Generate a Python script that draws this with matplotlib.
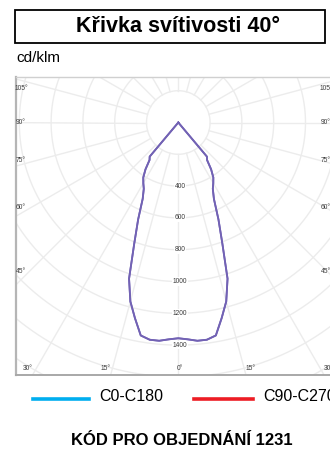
import numpy as np
import matplotlib
matplotlib.use('Agg')
import matplotlib.pyplot as plt
from matplotlib.patches import Rectangle
from matplotlib.lines import Line2D

plt.rcParams['font.family'] = ['Liberation Sans', 'DejaVu Sans']
NARROW = ['Liberation Sans Narrow', 'Liberation Sans', 'DejaVu Sans']

# data: luminous intensity (cd/klm) vs gamma angle (deg from nadir)
gamma = [0, 2.5, 5, 7.5, 10, 12.5, 15, 17.5, 20, 22.5, 25, 27.5, 30, 32.5, 35, 37.5, 40, 45]
c0_c180 = [1357, 1365, 1378, 1378, 1360, 1260, 1165, 1030, 810, 660, 530, 470, 440, 410, 360, 297, 280, 0]
c90_c270 = [1357, 1365, 1378, 1378, 1360, 1260, 1165, 1030, 810, 660, 530, 470, 440, 410, 360, 297, 280, 0]

circle_values = [200, 400, 600, 800, 1000, 1200, 1400, 1600, 1800, 2000]
radial_labels = [400, 600, 800, 1000, 1200, 1400]
side_angles = [105, 90, 75, 60, 45]
bottom_angles = [30, 15, 0]

legend_names = ['C0-C180', 'C90-C270']
legend_colors = ['#00aeef', '#ed1c24']
curve_color = '#7262b4'

# layout (pixels in a 330x450 image)
W, H = 330, 450
S = 0.159            # px per cd
OX, OY = 178.3, 122.5  # origin in pixels
L, R, T, B = 16, 332, 77, 375


def fx(px):
    return px / W


def fy(py):
    return 1 - py / H


fig = plt.figure(figsize=(W / 100, H / 100), dpi=100)
ax = fig.add_axes([fx(L), fy(B), (R - L) / W, (B - T) / H])
ax.set_xlim((L - OX) / S, (R - OX) / S)
ax.set_ylim((OY - B) / S, (OY - T) / S)
ax.set_xticks([])
ax.set_yticks([])
for side in ['left', 'right']:
    ax.spines[side].set_color('#b5b5b5')
    ax.spines[side].set_linewidth(1.6)
ax.spines['top'].set_color('#d0d0d0')
ax.spines['top'].set_linewidth(1.0)
ax.spines['bottom'].set_color('#a8a8a8')
ax.spines['bottom'].set_linewidth(1.4)

# polar grid
grid_kw = dict(color='#ececec', lw=1.0, zorder=1)
t = np.linspace(0, 2 * np.pi, 720)
for r in circle_values:
    ax.plot(r * np.sin(t), r * np.cos(t), **grid_kw)
for a in range(0, 360, 15):
    ar = np.radians(a)
    ax.plot([200 * np.sin(ar), 3000 * np.sin(ar)],
            [-200 * np.cos(ar), -3000 * np.cos(ar)], **grid_kw)


def profile(g, vals):
    g = np.asarray(g, float)
    v = np.asarray(vals, float)
    gg = np.radians(np.r_[-g[::-1], g[1:]])
    vv = np.r_[v[::-1], v[1:]]
    return vv * np.sin(gg), -vv * np.cos(gg)


for vals in [c0_c180, c90_c270]:
    x, y = profile(gamma, vals)
    ax.plot(x, y, color=curve_color, lw=1.3, zorder=3, solid_joinstyle='round')

# labels
lab_kw = dict(fontsize=4.8, color='#3a3a3a', ha='center', va='center', zorder=4)
for v in radial_labels:
    ax.text(1.7 / S, -v, str(v), bbox=dict(fc='white', ec='none', pad=0.4), **lab_kw)

ymax = (OY - 88) / S
for a in side_angles:
    dx = (OX - 21) / S
    if a == 90:
        yy = 0
    else:
        yy = min(-dx / np.tan(np.radians(a + 1.5)), ymax)
    ax.text((21 - OX) / S, yy, f'{a}°', **lab_kw)
    ax.text((326 - OX) / S, yy, f'{a}°', **lab_kw)

yb = (OY - 368) / S
for a in bottom_angles:
    xx = -yb * np.tan(np.radians(a + 1.5)) if a else 1.5 / S
    ax.text(-xx if a else xx, yb, f'{a}°', **lab_kw)
    if a:
        ax.text(xx, yb, f'{a}°', **lab_kw)

# title box
fig.patches.append(Rectangle((fx(15), fy(43)), 310 / W, 33 / H, transform=fig.transFigure,
                             fill=False, ec='black', lw=1.3))
fig.text(fx(178), fy(27), 'Křivka svítivosti 40°', ha='center', va='center',
         fontsize=15.5, fontweight='bold', family=NARROW)
fig.text(fx(16), fy(62), 'cd/klm', ha='left', va='baseline', fontsize=11, family=NARROW)

# legend
legend_x = [(33, 89, 99), (194, 253, 263)]
for (x0, x1, xt), name, col in zip(legend_x, legend_names, legend_colors):
    fig.add_artist(Line2D([fx(x0), fx(x1)], [fy(399), fy(399)], color=col, lw=2.6,
                          transform=fig.transFigure))
    fig.text(fx(xt), fy(401), name, ha='left', va='baseline', fontsize=11.5)

fig.text(fx(182), fy(445), 'KÓD PRO OBJEDNÁNÍ 1231', ha='center', va='baseline',
         fontsize=12, fontweight='bold', family=NARROW)

fig.savefig('out.png', dpi=100)
